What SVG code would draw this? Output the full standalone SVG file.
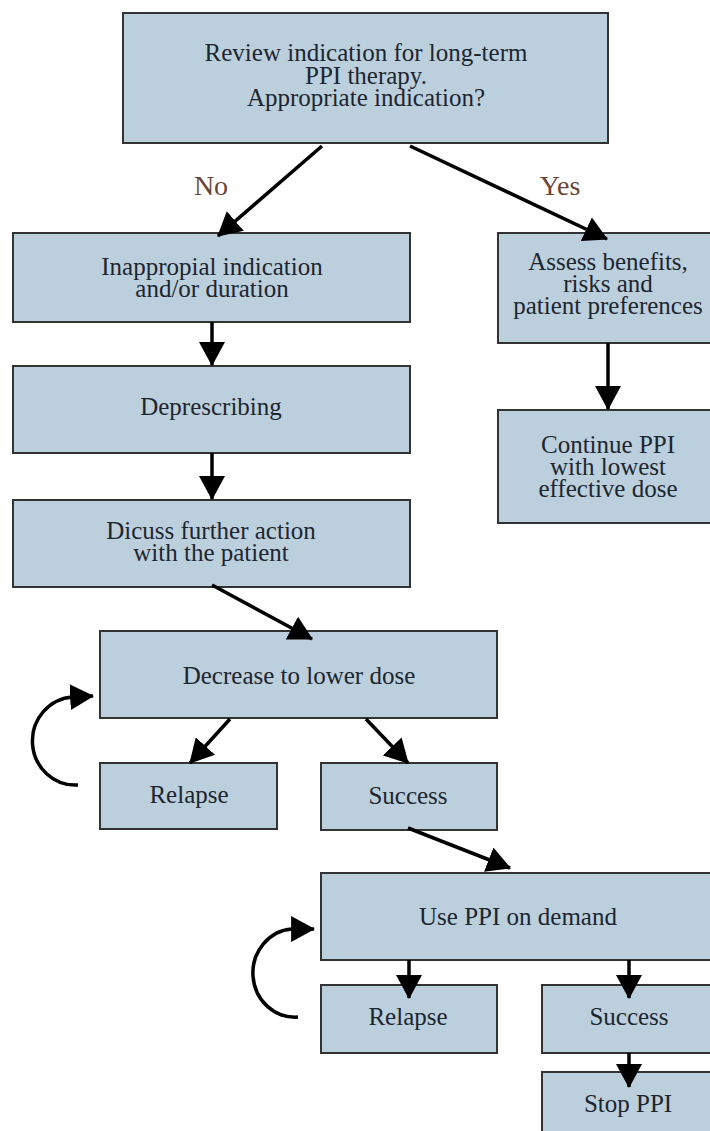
<svg xmlns="http://www.w3.org/2000/svg" width="710" height="1131" viewBox="0 0 710 1131">
<defs>
<style>
.box{fill:#bccfdc;stroke:#333;stroke-width:2}
.t{font-family:"Liberation Serif","Times New Roman",serif;font-size:25px;fill:#1c2630;text-anchor:middle}
.lbl{font-family:"Liberation Serif","Times New Roman",serif;font-size:28px;fill:#6b4434;text-anchor:middle}
.c{fill:none;stroke:#000;stroke-width:3.5;marker-end:url(#ah)}
</style>
<marker id="ah" markerUnits="userSpaceOnUse" markerWidth="24" markerHeight="26" viewBox="0 0 23 25" refX="22" refY="12.5" orient="auto">
<path d="M0,0 L23,12.5 L0,25 z" fill="#000"/>
</marker>
</defs>
<rect width="710" height="1131" fill="#fff"/>
<g id="n-review"><rect class="box" x="123" y="13" width="485" height="130"/>
<text class="t" x="366" y="61">Review indication for long-term</text>
<text class="t" x="366" y="84">PPI therapy.</text>
<text class="t" x="366" y="106">Appropriate indication?</text></g>
<g id="n-inapp"><rect class="box" x="13" y="233" width="397" height="89"/>
<text class="t" x="212" y="275">Inappropial indication</text>
<text class="t" x="212" y="297">and/or duration</text></g>
<g id="n-assess"><rect class="box" x="498" y="233" width="222" height="110"/>
<text class="t" x="608" y="270">Assess benefits,</text>
<text class="t" x="608" y="292">risks and</text>
<text class="t" x="608" y="314">patient preferences</text></g>
<g id="n-depr"><rect class="box" x="13" y="366" width="397" height="87"/>
<text class="t" x="211" y="415">Deprescribing</text></g>
<g id="n-cont"><rect class="box" x="498" y="410" width="222" height="113"/>
<text class="t" x="608" y="453">Continue PPI</text>
<text class="t" x="608" y="475">with lowest</text>
<text class="t" x="608" y="497">effective dose</text></g>
<g id="n-disc"><rect class="box" x="13" y="500" width="397" height="87"/>
<text class="t" x="211" y="539">Dicuss further action</text>
<text class="t" x="211" y="561">with the patient</text></g>
<g id="n-decr"><rect class="box" x="100" y="631" width="397" height="87"/>
<text class="t" x="299" y="684">Decrease to lower dose</text></g>
<g id="n-rel1"><rect class="box" x="100" y="763" width="177" height="66"/>
<text class="t" x="189" y="803">Relapse</text></g>
<g id="n-suc1"><rect class="box" x="321" y="763" width="176" height="67"/>
<text class="t" x="408" y="804">Success</text></g>
<g id="n-use"><rect class="box" x="321" y="873" width="400" height="87"/>
<text class="t" x="518" y="925">Use PPI on demand</text></g>
<g id="n-rel2"><rect class="box" x="321" y="985" width="176" height="68"/>
<text class="t" x="408" y="1025">Relapse</text></g>
<g id="n-suc2"><rect class="box" x="542" y="985" width="180" height="68"/>
<text class="t" x="629" y="1025">Success</text></g>
<g id="n-stop"><rect class="box" x="542" y="1072" width="180" height="70"/>
<text class="t" x="628" y="1112">Stop PPI</text></g>
<g id="connectors">
<path class="c" d="M322,146 L218,236"/>
<path class="c" d="M410,146 L607,239"/>
<text class="lbl" x="211" y="195">No</text>
<text class="lbl" x="560" y="195">Yes</text>
<path class="c" d="M212,322 L212,365"/>
<path class="c" d="M212,453 L212,499"/>
<path class="c" d="M608,343 L608,409"/>
<path class="c" d="M212,585 L312,639"/>
<path class="c" d="M230,719 L190,763"/>
<path class="c" d="M366,719 L408,763"/>
<path class="c" d="M408,828 L510,868"/>
<path class="c" d="M409,960 L409,998"/>
<path class="c" d="M629,960 L629,998"/>
<path class="c" d="M629,1053 L629,1087"/>
<path class="c" d="M78,785 A43,44 0 0 1 73,697 L93,696"/>
<path class="c" d="M298,1017 A42,44 0 0 1 292,929 L314,929"/>
</g>
</svg>
